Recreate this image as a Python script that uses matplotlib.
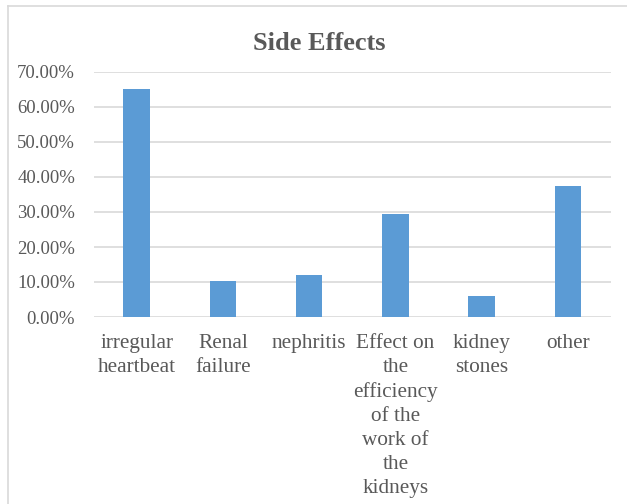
import matplotlib.pyplot as plt
from matplotlib.lines import Line2D
from matplotlib.ticker import FuncFormatter

categories = ['irregular\nheartbeat', 'Renal\nfailure', 'nephritis',
              'Effect on\nthe\nefficiency\nof the\nwork of\nthe\nkidneys',
              'kidney\nstones', 'other']
values = [0.652, 0.102, 0.120, 0.295, 0.061, 0.374]
yticks = [0.0, 0.1, 0.2, 0.3, 0.4, 0.5, 0.6, 0.7]

plt.rcParams['font.family'] = ['Liberation Serif', 'DejaVu Serif']

fig = plt.figure(figsize=(6.27, 5.04), dpi=100)
ax = fig.add_axes([93.5 / 627, 1 - 317 / 504, (611 - 93.5) / 627, 245 / 504])

x = range(len(categories))
ax.bar(x, values, width=0.31, color='#5b9bd5', zorder=3)

ax.set_ylim(0, 0.7)
ax.set_xlim(-0.5, len(categories) - 0.5)
ax.set_yticks(yticks)
ax.yaxis.set_major_formatter(FuncFormatter(lambda v, p: f'{v * 100:.2f}%'))
ax.set_xticks(list(x))
ax.set_xticklabels(categories, linespacing=1.35)
ax.tick_params(axis='both', length=0, colors='#595959')
ax.tick_params(axis='x', pad=12.5, labelsize=15.3)
ax.tick_params(axis='y', pad=13.3, labelsize=13.5)
ax.grid(axis='y', color='#d9d9d9', linewidth=1.2, zorder=0)
for s in ax.spines.values():
    s.set_visible(False)

fig.text(319 / 627, 1 - 43.5 / 504, 'Side Effects', ha='center', va='center',
         fontsize=19, fontweight='bold', color='#595959')

# chart border (left and top visible)
fig.add_artist(Line2D([7.5 / 627, 7.5 / 627], [0, 1 - 5.5 / 504], transform=fig.transFigure,
                      color='#d9d9d9', linewidth=1.2))
fig.add_artist(Line2D([7.5 / 627, 1], [1 - 5.5 / 504, 1 - 5.5 / 504], transform=fig.transFigure,
                      color='#d9d9d9', linewidth=1.2))

fig.savefig('out.png', dpi=100)
plt.close()
